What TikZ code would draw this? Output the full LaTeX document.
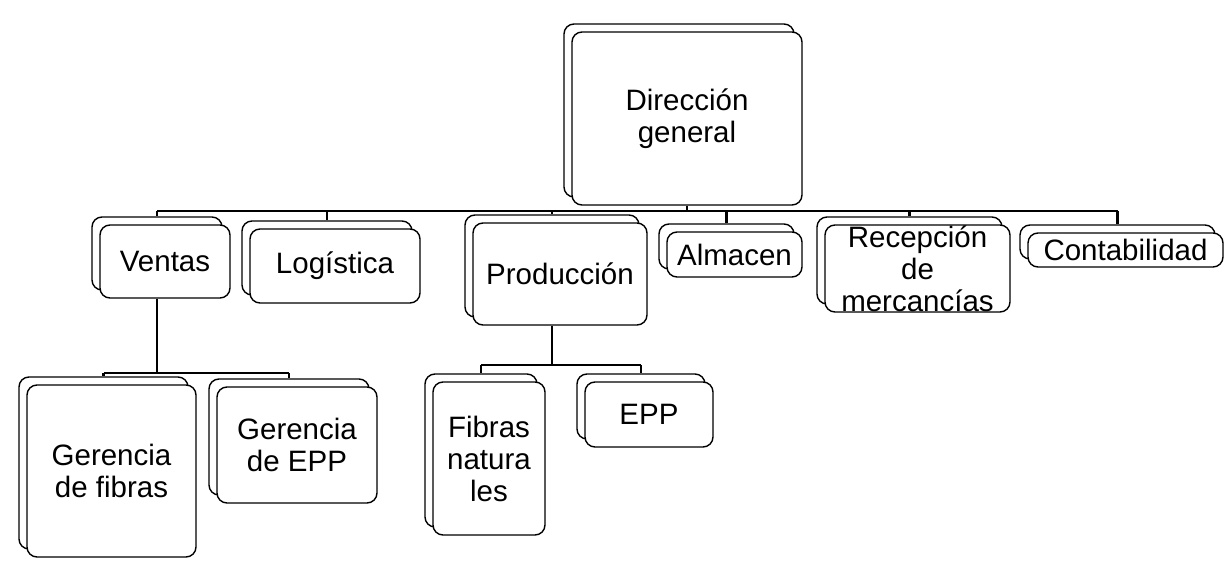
\documentclass[tikz,border=0pt]{standalone}
\usepackage{fontspec}
\setmainfont{Liberation Sans}
\tikzset{
  boxshape/.style={draw=black, line width=1.4pt, rounded corners=10pt, fill=white, inner sep=0pt, align=center},
  boxback/.style={boxshape},
  boxfront/.style={boxshape, font=\fontsize{29.5}{32}\selectfont},
  conn/.style={draw=black, line width=2.4pt},
}
\newcommand\orgbox[6]{%
  \node[boxback, minimum width=#4, minimum height=#5] (#1b) at (#2-8,#3-8) {};
  \node[boxfront, minimum width=#4, minimum height=#5] (#1) at (#2,#3) {#6};
}
\begin{document}
\begin{tikzpicture}[x=1pt,y=-1pt]
\useasboundingbox (0,0) rectangle (1227,570);
\orgbox{root}{687}{118.5}{230}{173}{Dirección\\general}
\orgbox{ventas}{165}{261.5}{130}{73}{Ventas}
\orgbox{log}{335}{266}{170}{74}{Logística}
\orgbox{prod}{560}{274}{174}{102}{Producción}
\orgbox{alm}{734.5}{254.5}{135}{45}{Almacen}
\orgbox{rec}{917.5}{268.5}{185}{87}{Recepción\\de\\mercancías}
\orgbox{cont}{1125.5}{250}{195}{34}{Contabilidad}
\orgbox{gfib}{111.5}{471}{169}{172}{Gerencia\\de fibras}
\orgbox{gepp}{297}{445}{160}{116}{Gerencia\\de EPP}
\orgbox{fnat}{489}{458.5}{112}{153}{Fibras\\natura\\les}
\orgbox{epp}{649}{414.5}{128}{65}{EPP}
\coordinate (bus) at (0,211);
\coordinate (busv) at (0,373);
\coordinate (busp) at (0,365);
% top level
\draw[conn] (root.south) -- (root.south |- bus);
\draw[conn] (ventasb.north |- bus) -- (contb.north |- bus);
\foreach \c in {ventas,log,prod,alm,rec,cont}
  \draw[conn] (\c b.north) -- (\c b.north |- bus);
% Ventas branch
\draw[conn] (ventasb.center |- ventas.south) -- (ventasb.center |- busv);
\draw[conn] (gfibb.north |- busv) -- (geppb.north |- busv);
\foreach \c in {gfib,gepp}
  \draw[conn] (\c b.north) -- (\c b.north |- busv);
% Produccion branch
\draw[conn] (prodb.center |- prod.south) -- (prodb.center |- busp);
\draw[conn] (fnatb.north |- busp) -- (eppb.north |- busp);
\foreach \c in {fnat,epp}
  \draw[conn] (\c b.north) -- (\c b.north |- busp);
\end{tikzpicture}
\end{document}
